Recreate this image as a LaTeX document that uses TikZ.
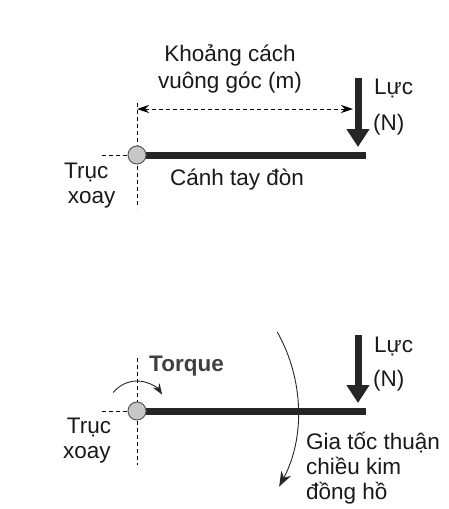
\documentclass[tikz,border=0pt]{standalone}
\usepackage{fontspec}
\setmainfont{Liberation Sans}
\usetikzlibrary{arrows.meta}

\begin{document}
\begin{tikzpicture}[x=1pt,y=-1pt,
  lbl/.style={font=\fontsize{22.5}{25}\selectfont, inner sep=0pt, align=left, text=black!90},
  guide/.style={dash pattern=on 4pt off 3pt, line width=0.9pt},
  lever/.style={line width=7pt, color=black!85},
  pivot/.style={circle, draw=black!65, fill=black!22, line width=1pt, minimum size=18pt, inner sep=0pt},
  force/.style={line width=7pt, color=black!85, -{Triangle[width=22pt,length=18pt]}},
  turn/.style={line width=0.9pt, color=black!85, -{Stealth[length=15pt,width=11pt]}}]

  \useasboundingbox (0,0) rectangle (449,509);

  % upper lever
  \coordinate (pA) at (137,155);
  \coordinate (eA) at (366,155);
  \coordinate (hA) at (102,155);
  \coordinate (vA1) at (137,103);
  \coordinate (vA2) at (137,208);
  \coordinate (dA1) at (137,109);
  \coordinate (dA2) at (353,109);
  \coordinate (fA1) at (358,78);
  \coordinate (fA2) at (358,147);

  \draw[guide] (hA) -- (pA);
  \draw[guide] (vA1) -- (vA2);
  \draw[guide, {Stealth[length=12pt,width=8pt]}-{Stealth[length=12pt,width=8pt]}] (dA1) -- (dA2);
  \draw[lever] (pA) -- (eA);
  \node[pivot] (axisA) at (pA) {};
  \draw[force] (fA1) -- (fA2);

  \node[lbl, align=center, font=\fontsize{22.5}{27}\selectfont] (distA) at (230,69) {Khoảng cách\\vuông góc (m)};
  \node[lbl, anchor=west] (forceA) at (374,88) {Lực};
  \node[lbl, anchor=west] (unitA) at (373,125) {(N)};
  \node[lbl] (armA) at (237,180) {Cánh tay đòn};
  \node[lbl, anchor=west] (pivA) at (64,186) {Trục\\\,xoay};

  % lower lever
  \coordinate (pB) at (137,411);
  \coordinate (eB) at (366,411);
  \coordinate (hB) at (102,411);
  \coordinate (vB1) at (137,358);
  \coordinate (vB2) at (137,465);
  \coordinate (fB1) at (358,335);
  \coordinate (fB2) at (358,403);

  \draw[guide] (hB) -- (pB);
  \draw[guide] (vB1) -- (vB2);
  \draw[turn, -{Stealth[length=11pt,width=8pt]}] ([shift={(-142:30)}]pB) arc[start angle=-142, end angle=-33, radius=30];
  \draw[turn] ([shift={(-29.4:161)}]pB) arc[start angle=-29.4, end angle=28, radius=161];
  \draw[lever] (pB) -- (eB);
  \node[pivot] (axisB) at (pB) {};
  \draw[force] (fB1) -- (fB2);

  \node[lbl, anchor=west, font=\fontsize{22.5}{25}\selectfont\bfseries, text=black!75] (torqB) at (149,366) {Torque};
  \node[lbl, anchor=west] (forceB) at (374,346) {Lực};
  \node[lbl, anchor=west] (unitB) at (373,381) {(N)};
  \node[lbl, anchor=west] (pivB) at (63,441) {\,Trục\\xoay};
  \node[lbl, anchor=west] (accB) at (306,468) {Gia tốc thuận\\chiều kim\\đồng hồ};
\end{tikzpicture}
\end{document}
